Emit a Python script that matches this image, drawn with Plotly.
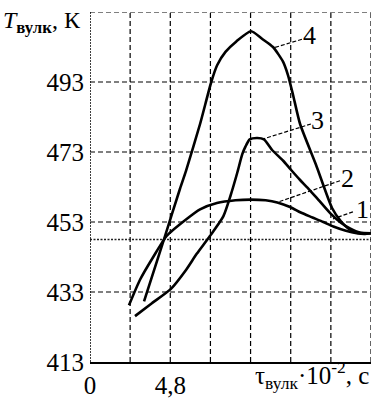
import plotly.graph_objects as go

# Vulcanization time, x10^-2 s, and temperature, K, for regimes 2-4
t2 = [2.33, 2.99, 3.78, 4.58, 5.74, 6.58, 7.59, 8.7, 9.6, 10.5, 11.2, 11.96, 12.6, 13.3, 13.95, 14.55, 15.3, 15.95, 16.4, 16.8]
T2 = [429.2, 436.5, 443.0, 449.0, 453.7, 456.6, 458.4, 459.2, 459.4, 459.2, 458.6, 457.3, 455.7, 454.3, 453.0, 451.7, 450.5, 449.8, 449.6, 449.8]

t3 = [2.69, 3.7, 4.84, 5.74, 6.38, 7.17, 7.97, 8.4, 8.8, 9.1, 9.3, 9.55, 10.0, 10.4, 10.9, 11.55, 12.0, 12.56, 13.0, 13.57, 14.4, 15.0, 15.54, 16.14, 16.8]
T3 = [426.1, 429.8, 433.9, 439.3, 443.9, 449.0, 454.6, 460.5, 467.0, 472.3, 474.6, 476.6, 477.0, 476.6, 473.5, 470.5, 468.0, 465.0, 462.8, 459.8, 455.3, 452.8, 451.2, 450.0, 449.8]

t4 = [3.23, 4.48, 5.38, 5.74, 6.58, 7.25, 7.6, 8.1, 8.75, 9.63, 10.3, 10.94, 11.54, 11.84, 12.14, 12.56, 13.5, 14.47, 15.0, 15.42, 15.8, 16.2, 16.8]
T4 = [430.3, 448.9, 462.5, 467.6, 481.0, 493.0, 497.8, 501.6, 504.6, 507.5, 505.3, 503.0, 498.8, 494.9, 489.3, 481.0, 469.5, 457.0, 453.2, 451.2, 450.2, 449.7, 449.8]

# Regime 1: constant temperature
t1 = [0.0, 16.8]
T1 = [448.0, 448.0]

# Axis ticks and grid
x_range = [0, 16.8]
y_range = [413, 513]
x_tickvals = [0, 4.8]
x_ticktext = ["0", "4,8"]
y_tickvals = [413, 433, 453, 473, 493]
x_grid = [2.4, 4.8, 7.2, 9.6, 12.0, 14.4, 16.8]
y_grid = [433, 453, 473, 493, 513]

# Curve labels: text, label position, leader end on curve
curve_labels = ["1", "2", "3", "4"]
label_x = [16.3, 15.37, 13.63, 13.15]
label_y = [456.7, 465.4, 482.1, 506.3]
lead_x0 = [15.72, 14.95, 13.21, 12.67]
lead_y0 = [455.9, 464.8, 481.0, 505.2]
lead_x1 = [14.53, 11.24, 10.40, 10.94]
lead_y1 = [453.9, 458.7, 476.8, 502.7]

SERIF = "Liberation Serif"

fig = go.Figure()

fig.add_trace(go.Scatter(x=t1, y=T1, mode="lines",
                         line=dict(color="#222", width=1.3, dash="2px,1.5px"),
                         showlegend=False, hoverinfo="skip"))
for tx, ty in [(t2, T2), (t3, T3), (t4, T4)]:
    fig.add_trace(go.Scatter(x=tx, y=ty, mode="lines",
                             line=dict(color="black", width=2.6, shape="spline", smoothing=0.6),
                             showlegend=False, hoverinfo="skip"))

shapes = []
for gx in x_grid:
    shapes.append(dict(type="line", xref="x", yref="paper", x0=gx, x1=gx, y0=0, y1=1,
                       line=dict(color="black", width=1.2, dash="5px,3px"), layer="below"))
for gy in y_grid:
    shapes.append(dict(type="line", xref="paper", yref="y", x0=0, x1=1, y0=gy, y1=gy,
                       line=dict(color="black", width=1.2, dash="5px,3px"), layer="below"))
# left axis, dotted
shapes.append(dict(type="line", xref="x", yref="paper", x0=0, x1=0, y0=0, y1=1,
                   line=dict(color="black", width=1.5, dash="2px,1px")))
# leader lines
for i in range(len(curve_labels)):
    shapes.append(dict(type="line", xref="x", yref="y",
                       x0=lead_x0[i], y0=lead_y0[i], x1=lead_x1[i], y1=lead_y1[i],
                       line=dict(color="black", width=1.2, dash="4px,2px")))

annotations = []
for i, lab in enumerate(curve_labels):
    annotations.append(dict(x=label_x[i], y=label_y[i], xref="x", yref="y", text=lab,
                            showarrow=False, font=dict(family=SERIF, size=26, color="black"),
                            xanchor="center", yanchor="middle"))
annotations.append(dict(x=-0.025, y=0.972, xref="paper", yref="paper",
                        text="<i>T</i><sub><b>вулк</b></sub>, К", showarrow=False,
                        xanchor="right", yanchor="middle",
                        font=dict(family=SERIF, size=24, color="black")))
annotations.append(dict(x=1.0, y=-0.038, xref="paper", yref="paper",
                        text="τ<sub>вулк</sub>·10<sup>-2</sup>, с", showarrow=False,
                        xanchor="right", yanchor="middle",
                        font=dict(family=SERIF, size=25, color="black")))

fig.update_layout(
    width=372, height=400,
    margin=dict(l=90, r=1, t=12, b=29),
    paper_bgcolor="white", plot_bgcolor="white",
    shapes=shapes, annotations=annotations,
    xaxis=dict(range=x_range, tickvals=x_tickvals, ticktext=x_ticktext,
               showgrid=False, zeroline=False, showline=True, linecolor="black",
               linewidth=2, ticks="", tickfont=dict(family=SERIF, size=25, color="black")),
    yaxis=dict(range=y_range, tickvals=y_tickvals, ticklabelstandoff=5,
               showgrid=False, zeroline=False, showline=False, ticks="",
               tickfont=dict(family=SERIF, size=25, color="black")),
)

fig.write_html("out.html")
